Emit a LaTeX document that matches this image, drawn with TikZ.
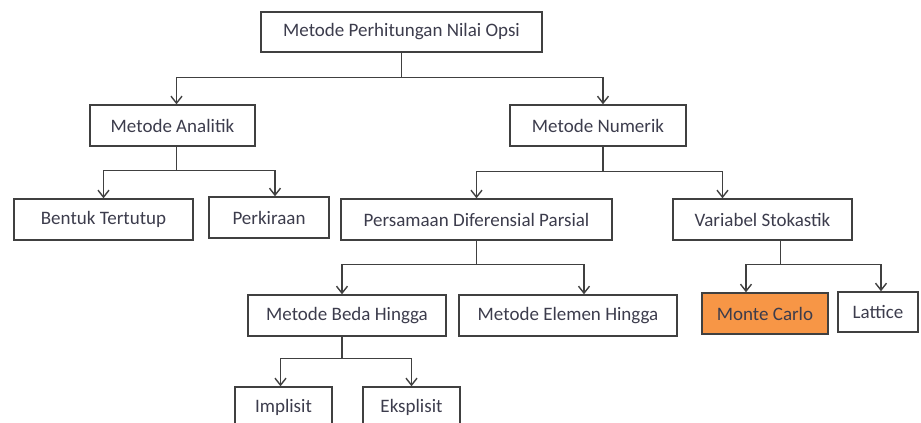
\documentclass[tikz,border=0pt]{standalone}
\usepackage{fontspec}
\setmainfont{Carlito}
\usetikzlibrary{arrows.meta,positioning}

\definecolor{garisabu}{HTML}{404040}
\definecolor{teksabu}{HTML}{3C3C4C}
\definecolor{oranye}{HTML}{F79646}

\tikzset{
  kotak/.style={draw=garisabu,line width=1.4pt,inner sep=0pt,minimum height=41pt,
    text=teksabu,font=\fontsize{19}{21}\selectfont},
  panah/.style={draw=garisabu,line width=1.4pt,-{Straight Barb[length=7pt,width=11pt]}}
}

\begin{document}
\begin{tikzpicture}[x=1pt,y=-1pt]
\useasboundingbox (0,0) rectangle (921,423);
\clip (0,0) rectangle (921,423);
\node[kotak,minimum width=281pt,minimum height=40pt] (opsi) at (401.5,32) {Metode Perhitungan Nilai Opsi};
\node[kotak,minimum width=165pt] (analitik) at (172.5,125.5) {Metode Analitik};
\node[kotak,minimum width=176pt] (numerik) at (598,125.5) {Metode Numerik};
\node[kotak,minimum width=179pt] (tertutup) at (103.5,219.5) {Bentuk Tertutup};
\node[kotak,minimum width=120pt] (perkiraan) at (269,217.5) {Perkiraan};
\node[kotak,minimum width=271pt] (pdp) at (476.5,219.5) {Persamaan Diferensial Parsial};
\node[kotak,minimum width=179pt] (stokastik) at (762.5,219.5) {Variabel Stokastik};
\node[kotak,minimum width=198pt] (beda) at (347,315.5) {Metode Beda Hingga};
\node[kotak,minimum width=218pt] (elemen) at (568,315.5) {Metode Elemen Hingga};
\node[kotak,minimum width=126pt,fill=oranye] (montecarlo) at (765,313.5) {Monte Carlo};
\node[kotak,minimum width=80pt,minimum height=40pt] (lattice) at (878,312) {Lattice};
\node[kotak,minimum width=97pt] (implisit) at (283.5,407.5) {Implisit};
\node[kotak,minimum width=97pt] (eksplisit) at (411.5,407.5) {Eksplisit};
% cabang
\draw[panah] (opsi.south) -- ++(0,25) -| ([xshift=4pt]analitik.north);
\draw[panah] (opsi.south) -- ++(0,25) -| ([xshift=5pt]numerik.north);
\draw[panah] ([xshift=4pt]analitik.south) -- ++(0,24) -| (tertutup.north);
\draw[panah] ([xshift=4pt]analitik.south) -- ++(0,24) -| ([xshift=6pt]perkiraan.north);
\draw[panah] ([xshift=5pt]numerik.south) -- ++(0,25) -| (pdp.north);
\draw[panah] ([xshift=5pt]numerik.south) -- ++(0,25) -| ([xshift=-40pt]stokastik.north);
\draw[panah] (pdp.south) -- ++(0,24) -| ([xshift=-5pt]beda.north);
\draw[panah] (pdp.south) -- ++(0,24) -| ([xshift=16pt]elemen.north);
\draw[panah] ([xshift=18pt]stokastik.south) -- ++(0,24) -| ([xshift=-19pt]montecarlo.north);
\draw[panah] ([xshift=18pt]stokastik.south) -- ++(0,24) -| ([xshift=3pt]lattice.north);
\draw[panah] ([xshift=-5pt]beda.south) -- ++(0,22) -| ([xshift=-3pt]implisit.north);
\draw[panah] ([xshift=-5pt]beda.south) -- ++(0,22) -| (eksplisit.north);
\end{tikzpicture}
\end{document}
